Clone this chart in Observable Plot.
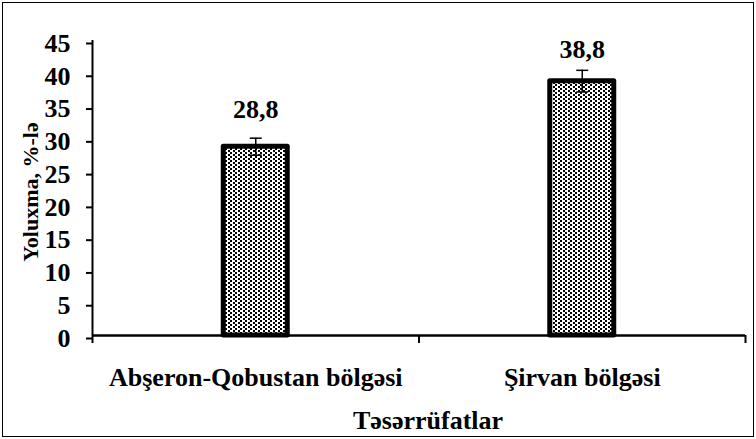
<!DOCTYPE html>
<html>
<head>
<meta charset="utf-8">
<script src="https://cdn.jsdelivr.net/npm/d3@7"></script>
<script src="https://cdn.jsdelivr.net/npm/@observablehq/plot@0.6"></script>
<style>
  html, body { margin: 0; padding: 0; background: #fff; }
  #chart svg { display: block; outline: 1.5px solid #000; outline-offset: -3px; }
</style>
</head>
<body>
<div id="chart"></div>
<script>
const categories = ["Abşeron-Qobustan bölgəsi", "Şirvan bölgəsi"];
const values = [28.8, 38.8];
const errors = [1.3, 1.65];
const valueLabels = ["28,8", "38,8"];
const yTicks = [0, 5, 10, 15, 20, 25, 30, 35, 40, 45];
const xTitle = "Təsərrüfatlar";
const yTitle = "Yoluxma, %-lə";

const data = categories.map((c, i) => ({ c, i, v: values[i], e: errors[i], lab: valueLabels[i] }));

const capSymbol = { draw(ctx, size) { ctx.moveTo(-6, 0); ctx.lineTo(6, 0); } };
const font = "Liberation Serif, Times New Roman, serif";

const chart = Plot.plot({
  width: 756,
  height: 439,
  marginLeft: 92,
  marginRight: 11,
  marginTop: 40,
  marginBottom: 104,
  style: { fontFamily: font, fontSize: "26px", fontWeight: "bold", color: "#000", background: "#fff" },
  x: { type: "linear", domain: [0, categories.length], axis: null },
  y: { domain: [0, 45], axis: null },
  marks: [
    Plot.rectY(data, {
      x1: d => d.i + 0.402, x2: d => d.i + 0.598, y1: 0, y2: "v",
      fill: "url(#dots)", stroke: "#000", strokeWidth: 5, strokeLinejoin: "round"
    }),
    Plot.ruleX(data, { x: d => d.i + 0.5, y1: d => d.v - d.e, y2: d => d.v + d.e, stroke: "#000", strokeWidth: 1.5 }),
    Plot.dot(data, { x: d => d.i + 0.5, y: d => d.v + d.e, symbol: capSymbol, stroke: "#000", strokeWidth: 1.5, r: 6 }),
    Plot.dot(data, { x: d => d.i + 0.5, y: d => d.v - d.e, symbol: capSymbol, stroke: "#000", strokeWidth: 1.5, r: 6 }),
    Plot.ruleX([0], { stroke: "#000", strokeWidth: 2 }),
    Plot.ruleY([0], { stroke: "#000", strokeWidth: 2.5 }),
    Plot.axisY({ ticks: yTicks, tickSize: 6, tickPadding: 16, strokeWidth: 2, tickFormat: d => String(d), dy: 3, fontSize: 26, label: null }),
    Plot.axisX({ ticks: d3.range(categories.length + 1), tickSize: 8, strokeWidth: 2, tickFormat: () => "", label: null }),
    Plot.text(data.filter(d => d.i === 0), { x: d => d.i + 0.5, y: "v", text: "lab", dy: -37, fontSize: 26 }),
    Plot.text(data.filter(d => d.i === 1), { x: d => d.i + 0.5, y: "v", text: "lab", dy: -31, fontSize: 26 }),
    Plot.text(data, { x: d => d.i + 0.5, y: 0, text: "c", dy: 42, fontSize: 26 }),
    Plot.text([xTitle], { frameAnchor: "bottom", text: d => d, dx: 9, dy: 93, fontSize: 26 }),
    Plot.text([yTitle], { frameAnchor: "left", textAnchor: "middle", text: d => d, dx: -62, dy: 4, rotate: -90, fontSize: 22 })
  ]
});

const defs = d3.select(chart).insert("defs", ":first-child");
const pat = defs.append("pattern").attr("id", "dots").attr("patternUnits", "userSpaceOnUse")
  .attr("width", 5).attr("height", 4).attr("shape-rendering", "crispEdges");
pat.append("rect").attr("width", 5).attr("height", 4).attr("fill", "#fff");
pat.append("rect").attr("x", 0).attr("y", 0).attr("width", 2).attr("height", 2).attr("fill", "#000");
pat.append("rect").attr("x", 2.5).attr("y", 2).attr("width", 2).attr("height", 2).attr("fill", "#000");

document.getElementById("chart").appendChild(chart);
</script>
</body>
</html>
